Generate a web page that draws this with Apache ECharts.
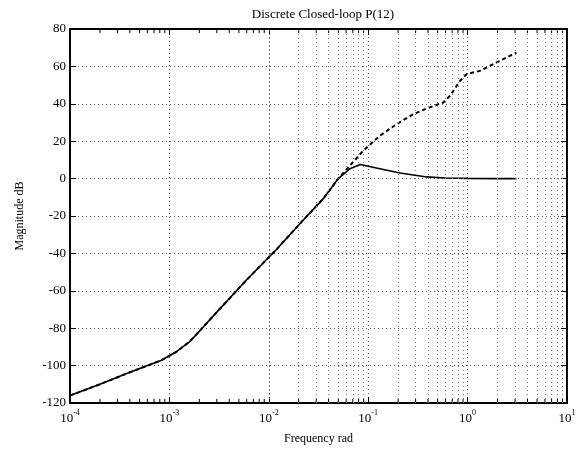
<!DOCTYPE html>
<html>
<head>
<meta charset="utf-8">
<script src="https://cdn.jsdelivr.net/npm/echarts@6/dist/echarts.min.js"></script>
<style>
  html, body { margin: 0; padding: 0; background: #fff; }
  #main { width: 579px; height: 453px; }
</style>
</head>
<body>
<div id="main"></div>
<script>
// частоты (rad) и амплитуды (dB)
const freqClosed = [1e-4, 2e-4, 4e-4, 8.2e-4, 1.17e-3, 1.59e-3, 1.85e-3, 2.95e-3, 5.9e-3, 1.18e-2, 2.19e-2, 3.5e-2, 5.0e-2, 6.56e-2, 8.3e-2, 0.131, 0.209, 0.388, 0.6, 1.0, 2.0, 3.1];
const magClosed = [-116, -110, -103.6, -97.3, -92.7, -87.3, -83.6, -71.8, -54.5, -38.2, -22.5, -11, 0, 5.3, 7.5, 5.3, 3.0, 0.9, 0.3, 0.1, 0, 0];

const freqOpen = [1e-4, 2e-4, 4e-4, 8.2e-4, 1.17e-3, 1.59e-3, 1.85e-3, 2.95e-3, 5.9e-3, 1.18e-2, 2.19e-2, 3.5e-2, 5.0e-2, 6.1e-2, 8.9e-2, 0.131, 0.193, 0.284, 0.417, 0.57, 0.665, 0.84, 0.98, 1.33, 1.96, 3.1];
const magOpen = [-116, -110, -103.6, -97.3, -92.7, -87.3, -83.6, -71.8, -54.5, -38.2, -22.5, -11, 0, 5.1, 14.9, 22.9, 29.1, 34.5, 38.1, 40.7, 44.3, 52.3, 55.9, 57.6, 62.1, 67.4];

// декады оси X и деления оси Y
const decades = [1e-4, 1e-3, 1e-2, 1e-1, 1, 10];
const yTicks = [-120, -100, -80, -60, -40, -20, 0, 20, 40, 60, 80];

const font = 'Liberation Serif';

// промежуточные деления логарифмической оси (2..9 в каждой декаде)
let minorX = [];
decades.slice(0, -1).forEach(d => {
    for (let k = 2; k <= 9; k++) minorX.push(k * d);
});

// мелкие засечки снизу и сверху: отрезки с разрывами (null)
let yMin = yTicks[0], yMax = yTicks[yTicks.length - 1];
let tickData = [];
minorX.forEach(x => {
    tickData.push([x, yMin], [x, yMin + 2.2], [x, null]);
    tickData.push([x, yMax], [x, yMax - 2.2], [x, null]);
});

const pairs = (xs, ys) => xs.map((x, i) => [x, ys[i]]);

let chart = echarts.init(document.getElementById('main'));

const axisText = {fontFamily: font, fontSize: 12, color: '#000'};

const option = {
    animation: false,
    backgroundColor: '#fff',
    title: {
        text: 'Discrete Closed-loop P(12)',
        left: 318,
        textAlign: 'center',
        top: 3,
        textStyle: {fontFamily: font, fontSize: 13, fontWeight: 'normal', color: '#000'}
    },
    grid: {
        left: 70, right: 12, top: 29, bottom: 50,
        show: true, borderColor: '#000', borderWidth: 1.5
    },
    xAxis: [{
        type: 'log',
        logBase: 10,
        min: decades[0],
        max: decades[decades.length - 1],
        name: 'Frequency rad',
        nameLocation: 'middle',
        nameGap: 30,
        nameTextStyle: axisText,
        axisLine: {show: true, onZero: false, lineStyle: {color: '#000', width: 1.8}},
        axisTick: {inside: true, length: 6, lineStyle: {color: '#000'}},
        axisLabel: {
            margin: 6,
            formatter: v => '{b|10}{s|' + Math.round(Math.log10(v)) + '}',
            rich: {
                b: {fontFamily: font, fontSize: 13, color: '#000', verticalAlign: 'bottom', lineHeight: 16},
                s: {fontFamily: font, fontSize: 8, color: '#000', verticalAlign: 'top', lineHeight: 16}
            }
        },
        splitLine: {show: true, lineStyle: {type: [1, 3], color: '#555'}}
    }, {
        type: 'log',
        logBase: 10,
        position: 'top',
        min: decades[0],
        max: decades[decades.length - 1],
        axisLine: {show: true, onZero: false, lineStyle: {color: '#000', width: 1.8}},
        axisTick: {inside: true, length: 6, lineStyle: {color: '#000'}},
        axisLabel: {show: false},
        splitLine: {show: false}
    }],
    yAxis: [{
        type: 'value',
        min: yMin,
        max: yMax,
        interval: 20,
        name: 'Magnitude dB',
        nameLocation: 'middle',
        nameGap: 44,
        nameTextStyle: axisText,
        axisLine: {show: true, lineStyle: {color: '#000', width: 1.8}},
        axisTick: {inside: true, length: 6, lineStyle: {color: '#000'}},
        axisLabel: {fontFamily: font, fontSize: 13, color: '#000', margin: 4},
        splitLine: {show: true, lineStyle: {type: [1, 3], color: '#555'}}
    }, {
        type: 'value',
        position: 'right',
        min: yMin,
        max: yMax,
        interval: 20,
        axisLine: {show: true, lineStyle: {color: '#000', width: 1.8}},
        axisTick: {inside: true, length: 6, lineStyle: {color: '#000'}},
        axisLabel: {show: false},
        splitLine: {show: false}
    }],
    series: [
        {
            // вертикальная сетка на промежуточных делениях
            type: 'line',
            data: [],
            silent: true,
            markLine: {
                silent: true,
                symbol: 'none',
                label: {show: false},
                animation: false,
                data: minorX.map(x => ({xAxis: x})),
                lineStyle: {type: [1, 3], color: '#777', width: 1}
            }
        },
        {
            // мелкие засечки
            type: 'line',
            data: tickData,
            silent: true,
            showSymbol: false,
            connectNulls: false,
            lineStyle: {color: '#000', width: 1}
        },
        {
            name: 'open',
            type: 'line',
            data: pairs(freqOpen, magOpen),
            showSymbol: false,
            lineStyle: {color: '#000', width: 2, type: [4, 3]}
        },
        {
            name: 'closed',
            type: 'line',
            data: pairs(freqClosed, magClosed),
            showSymbol: false,
            lineStyle: {color: '#000', width: 1.6}
        }
    ]
};
chart.setOption(option);
</script>
</body>
</html>
